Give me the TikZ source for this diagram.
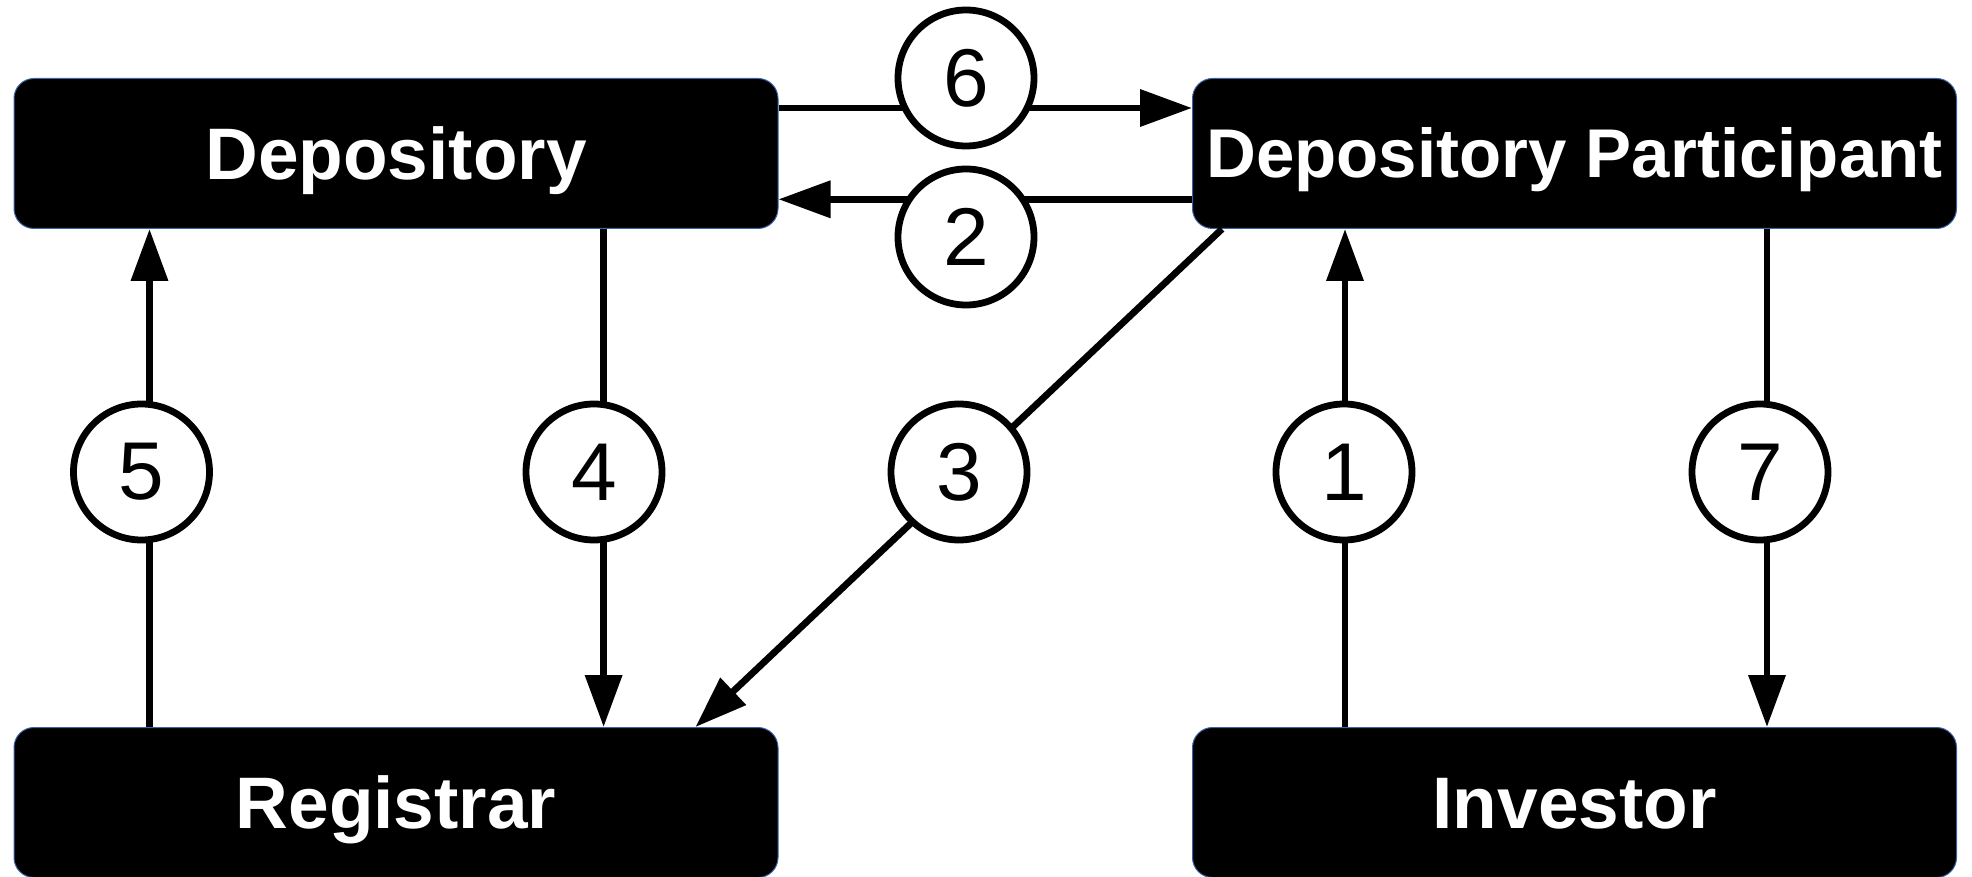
\documentclass[tikz,border=0pt]{standalone}
\usepackage{fontspec}
\setmainfont{Liberation Sans}
\usepackage{tikz}
\usetikzlibrary{arrows.meta}

\definecolor{rim}{RGB}{60,100,170}

\tikzset{
  party/.style={fill=black, draw=rim, line width=0.5pt, rounded corners=10pt,
    minimum width=382pt, minimum height=75pt, inner sep=0pt,
    text height=26pt, text depth=0pt,
    text=white, font=\fontsize{36.5}{40}\selectfont\bfseries},
  num/.style={circle, fill=white, draw=black, line width=3.4pt, inner sep=0pt,
    minimum size=68pt, font=\fontsize{41}{44}\selectfont},
  flow/.style={line width=3.4pt, -{Triangle[length=26pt,width=18pt]}}
}

\begin{document}
\begin{tikzpicture}[x=0.5pt,y=-0.5pt]
        \useasboundingbox (0,0) rectangle (1972,877);
        % the four parties
        \node[party] (dep) at (396,153.5) {Depository};
        \node[party, text height=24.5pt, font=\fontsize{34.5}{38}\selectfont\bfseries] (dp) at (1574.5,153.5) {Depository Participant};
        \node[party] (reg) at (396,802.5) {Registrar};
        \node[party] (inv) at (1574.5,802.5) {Investor};
        % flows between them
        \draw[flow] ([yshift=22.75pt]dep.east) -- ([yshift=22.75pt]dp.west); % 6
        \draw[flow] ([yshift=-22.9pt]dp.west) -- ([yshift=-22.9pt]dep.east); % 2
        \draw[flow] ([xshift=-123.25pt]reg.north) -- ([xshift=-123.25pt]dep.south); % 5
        \draw[flow] ([xshift=103.8pt]dep.south) -- ([xshift=103.8pt]reg.north); % 4
        \draw[flow] ([xshift=15pt]dp.south west) -- ([xshift=-41.5pt]reg.north east); % 3
        \draw[flow] ([xshift=-114.75pt]inv.north) -- ([xshift=-114.75pt]dp.south); % 1
        \draw[flow] ([xshift=96.25pt]dp.south) -- ([xshift=96.25pt]inv.north); % 7
        % step numbers
        \foreach \n/\x/\y in {6/966/78, 2/966/237, 5/141.5/472, 4/594/472,
                              3/959/472, 1/1344/472, 7/1760/472}
        \node[num] (n\n) at (\x,\y) {\n};
\end{tikzpicture}
\end{document}
